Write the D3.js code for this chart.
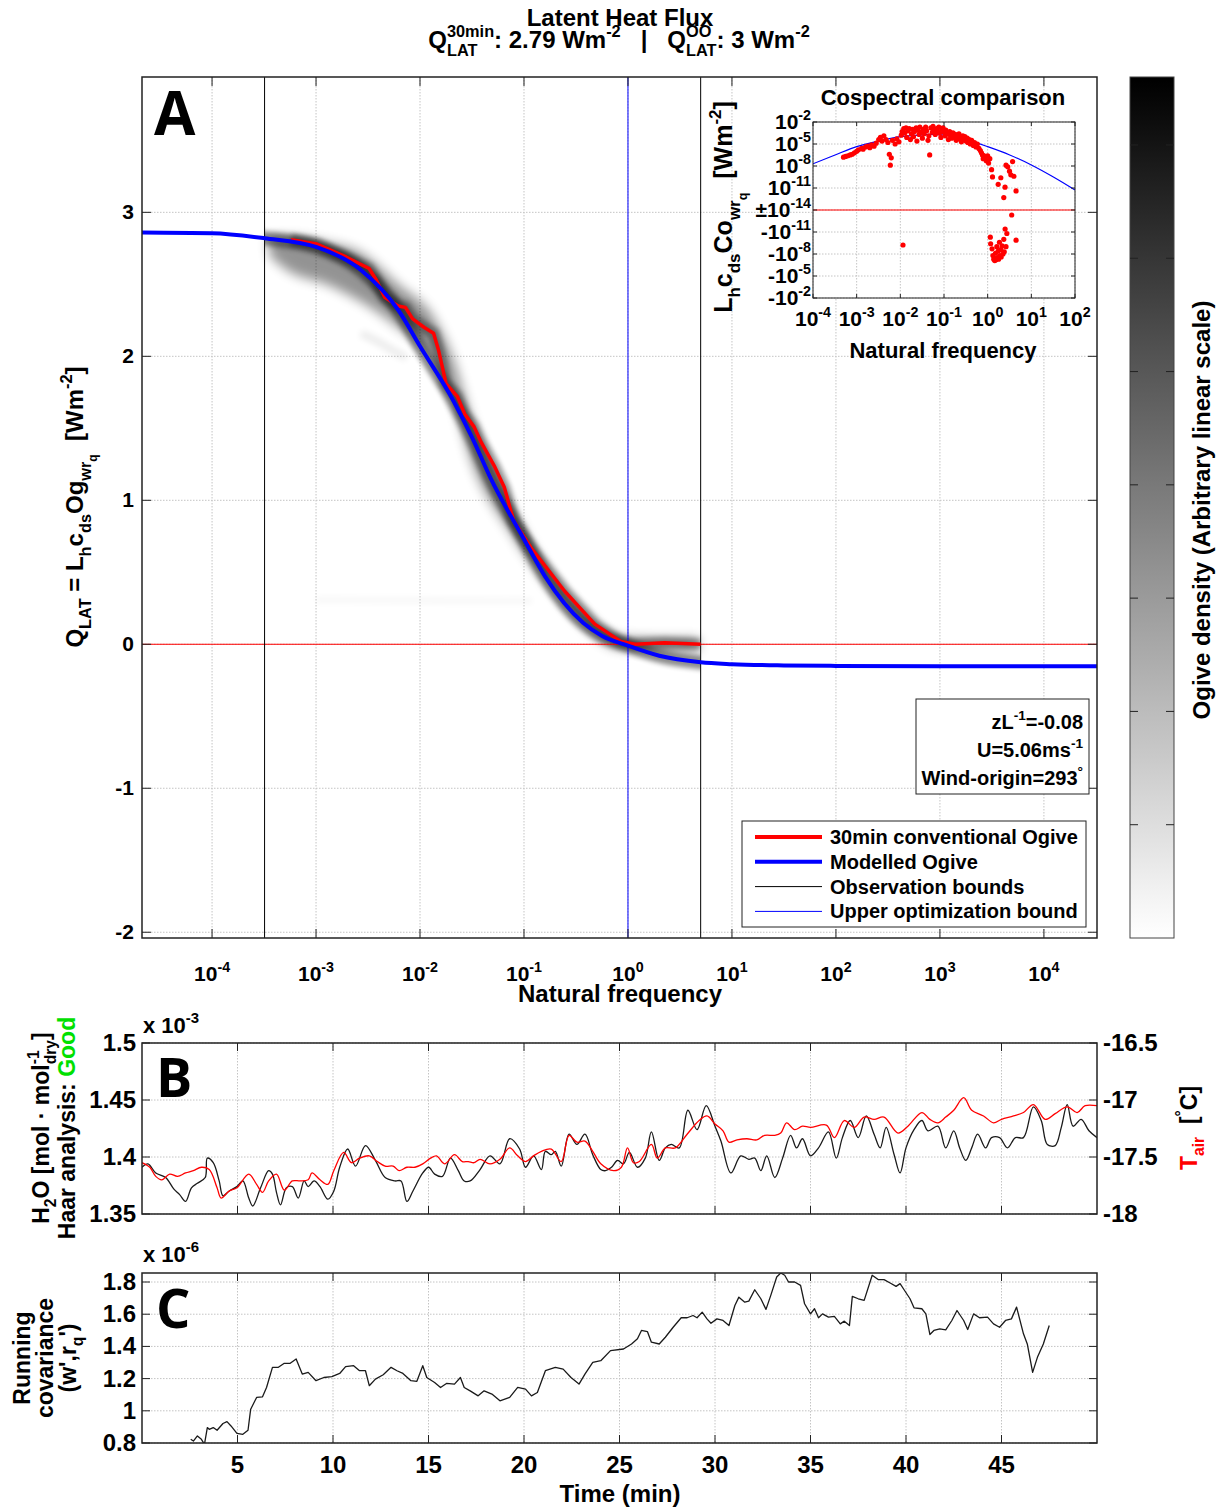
<!DOCTYPE html>
<html>
<head>
<meta charset="utf-8">
<title>Latent Heat Flux ogive</title>
<script src="https://d3js.org/d3.v7.min.js"></script>
<style>
  body { margin: 0; background: #fff; }
  text { font-family: "Liberation Sans", Arial, Helvetica, sans-serif; font-weight: bold; white-space: pre; }
  .big { font-family: "Open Sans", "Liberation Sans", sans-serif; font-weight: 700; }
</style>
</head>
<body>
<script>
// ---------- panel A : ogives (frequency in Hz, flux in W m-2) ----------
const modelF = [2.12e-5, 1e-4, 3.2e-4, 1e-3, 2.7e-3, 6.2e-3, 1e-2, 2.1e-2, 3.2e-2, 4.8e-2, 0.1, 0.16, 0.37, 0.56, 1, 2, 5, 10, 31.6, 100, 1000, 3.24e4]
const modelQ = [2.86, 2.855, 2.82, 2.76, 2.60, 2.32, 2.07, 1.69, 1.43, 1.15, 0.73, 0.47, 0.15, 0.06, -0.01, -0.08, -0.125, -0.138, -0.147, -0.15, -0.152, -0.152]

const convF = [5.75e-4, 1.02e-3, 1.95e-3, 3.24e-3, 3.8e-3, 4.57e-3, 6.17e-3, 7.24e-3, 8.5e-3, 1.1e-2, 1.35e-2, 1.51e-2, 1.78e-2, 2.29e-2, 2.69e-2, 3.31e-2, 3.89e-2, 5.25e-2, 6.46e-2, 7.94e-2, 9.12e-2, 0.117, 0.245, 0.479, 0.851, 1.17, 2.24, 5.0]
const convQ = [2.81, 2.78, 2.69, 2.61, 2.53, 2.41, 2.35, 2.34, 2.26, 2.20, 2.16, 2.04, 1.81, 1.72, 1.60, 1.51, 1.40, 1.23, 1.09, 0.86, 0.79, 0.67, 0.37, 0.14, 0.02, 0.0, 0.01, 0.0]

// ogive density cloud (envelope of the ensemble)
const bandF = [3.55e-4, 5.25e-4, 1.26e-3, 2.69e-3, 6.17e-3, 1.38e-2, 2.0e-2, 3.16e-2, 7.24e-2, 0.162, 0.372, 0.832, 2.0, 4.79]
const bandLo = [2.70, 2.60, 2.50, 2.38, 2.20, 1.97, 1.74, 1.26, 0.79, 0.43, 0.13, -0.03, -0.04, -0.04]
const bandHi = [2.83, 2.83, 2.79, 2.72, 2.50, 2.26, 2.02, 1.56, 0.98, 0.54, 0.23, 0.05, 0.04, 0.04]
const ghostF = [2.7e-3, 4.0e-3, 5.5e-3, 7.4e-3]
const ghostQ = [2.16, 2.10, 2.04, 1.99]
const ghost2F = [1.0e-3, 0.12]
const ghost2Q = [0.31, 0.30]

const obsBounds = [3.2e-4, 5.0]
const upperBound = 1
const aTicksX = [1e-4, 1e-3, 1e-2, 1e-1, 1, 10, 100, 1000, 1e4]
const aTicksY = [-2, -1, 0, 1, 2, 3]
const cbTicks = [5, 10, 15, 20, 25, 30, 35]

// ---------- inset : cospectra ----------
const cospecF = [5.0e-4, 5.6e-4, 6.3e-4, 7.1e-4, 7.9e-4, 8.9e-4, 1.0e-3, 1.1e-3, 1.3e-3, 1.4e-3,
  1.6e-3, 1.8e-3, 2.0e-3, 2.2e-3, 2.5e-3, 2.8e-3, 3.2e-3, 3.5e-3, 3.8e-3, 4.2e-3,
  4.7e-3, 5.2e-3, 5.6e-3, 5.9e-3, 6.2e-3, 6.6e-3, 7.6e-3, 8.3e-3, 9.3e-3, 1.05e-2,
  1.1e-2, 1.2e-2, 1.26e-2, 1.35e-2, 1.4e-2, 1.5e-2, 1.6e-2, 1.7e-2, 1.8e-2, 1.9e-2,
  2.0e-2, 2.1e-2, 2.3e-2, 2.4e-2, 2.5e-2, 2.7e-2, 2.8e-2, 3.0e-2, 3.2e-2, 3.4e-2,
  3.5e-2, 3.8e-2, 4.0e-2, 4.3e-2, 4.5e-2, 4.7e-2, 5.0e-2, 5.4e-2, 5.6e-2, 6.0e-2,
  6.3e-2, 6.8e-2, 7.1e-2, 7.6e-2, 7.9e-2, 8.5e-2, 8.9e-2, 9.5e-2, 0.100, 0.107,
  0.11, 0.12, 0.126, 0.135, 0.14, 0.15, 0.16, 0.17, 0.18, 0.19,
  0.20, 0.21, 0.22, 0.24, 0.25, 0.27, 0.28, 0.30, 0.32, 0.34,
  0.35, 0.38, 0.40, 0.43, 0.47, 0.50, 0.54, 0.58, 0.63, 0.68,
  0.72, 0.76, 0.79, 0.83, 0.89, 0.93, 1.00, 1.05, 1.12,
  1.23, 1.29, 1.74, 2.0, 2.34, 2.5, 2.63, 2.88, 3.16, 3.39, 3.72, 3.98, 4.47, 3.55,
  1.15, 1.17, 1.26, 1.32, 1.38, 1.45, 1.51, 1.55, 1.62, 1.66,
  1.74, 1.78, 1.86, 1.91, 2.0, 2.04, 2.14, 2.24, 2.34, 2.4,
  2.51, 2.63, 2.75, 4.47, 1.15e-2]
const cospecV = [1.6e-7, 2.0e-7, 2.5e-7, 3.2e-7, 4.0e-7, 6.3e-7, 1.0e-6, 1.6e-6, 2.5e-6, 2.0e-6,
  4.0e-6, 5.0e-6, 3.2e-6, 7.9e-6, 5.0e-6, 1.3e-5, 4.0e-5, 7.9e-5, 2.5e-5, 1.3e-4,
  4.0e-5, 1.6e-5, 4.0e-7, 1.3e-8, 1.3e-7, 3.2e-5, 1.0e-5, 5.0e-5, 2.0e-5, 1.6e-4,
  5.0e-4, 1.3e-3, 3.2e-4, 1.6e-3, 7.9e-5, 6.3e-4, 1.3e-3, 4.0e-5, 2.5e-4, 1.0e-3,
  1.0e-4, 5.0e-4, 1.6e-3, 2.5e-5, 7.9e-4, 2.0e-4, 2.0e-3, 4.0e-4, 6.3e-5, 1.0e-3,
  2.5e-4, 2.0e-3, 6.3e-4, 3.2e-5, 1.3e-4, 3.2e-7, 1.6e-3, 4.0e-4, 2.5e-3, 7.9e-4,
  2.0e-4, 1.3e-3, 5.0e-4, 2.0e-3, 3.2e-4, 7.9e-5, 1.0e-3, 1.6e-3, 4.0e-4, 1.3e-4,
  7.9e-4, 2.5e-4, 4.0e-5, 5.0e-4, 1.6e-4, 6.3e-5, 3.2e-4, 1.0e-4, 2.0e-4, 3.2e-5,
  1.3e-4, 5.0e-5, 2.5e-4, 7.9e-5, 2.0e-5, 1.3e-4, 4.0e-5, 1.0e-4, 2.5e-5, 6.3e-5,
  1.6e-5, 4.0e-5, 1.0e-5, 3.2e-5, 6.3e-6, 1.6e-5, 4.0e-6, 1.0e-5, 2.5e-6, 1.3e-6,
  6.3e-7, 3.2e-7, 1.0e-7, 2.5e-7, 1.6e-7, 5.0e-8, 2.5e-7, 2.5e-8, 1.0e-7,
  3.2e-9, 3.2e-10, 3.2e-11, 2.5e-10, 5.0e-13, 1.3e-11, 1.3e-8, 7.9e-9, 2.0e-9, 6.3e-10, 4.0e-8, 4.0e-10, 4.0e-12, -4.8e-14,
  -5.0e-11, -4.0e-10, -2.0e-9, -1.6e-8, -5.0e-8, -7.9e-8, -7.9e-9, -6.3e-8, -1.0e-9, -3.2e-8,
  -4.0e-9, -5.0e-8, -2.5e-10, -1.6e-8, -2.5e-9, -2.5e-8, -7.9e-10, -1.0e-8, -1.0e-10, -5.0e-9,
  -4.0e-12, -1.0e-9, -1.6e-11, -1.3e-10, -5.9e-10]
const cmodelF = [1e-4, 3.2e-4, 1e-3, 3.2e-3, 1e-2, 3.2e-2, 5e-2, 0.1, 0.32, 1, 3.2, 10, 32, 100]
const cmodelV = [2.0e-8, 3.2e-7, 4.3e-6, 2.5e-5, 1.0e-4, 1.8e-4, 2.1e-4, 1.7e-4, 4.0e-5, 4.3e-6, 3.2e-7, 1.4e-8, 3.2e-10, 5.4e-12]
const insetTicksX = [1e-4, 1e-3, 1e-2, 1e-1, 1, 10, 100]
const insetTicksY = [1e-2, 1e-5, 1e-8, 1e-11, 1e-14, -1e-11, -1e-8, -1e-5, -1e-2]
const insetTickLabels = [['10', '-2'], ['10', '-5'], ['10', '-8'], ['10', '-11'], ['\u00b110', '-14'], ['-10', '-11'], ['-10', '-8'], ['-10', '-5'], ['-10', '-2']]

// ---------- panel B : time series (min) ----------
const h2oT = [0.00, 0.31, 0.72, 1.24, 1.66, 1.97, 2.28, 2.59, 2.90, 3.31, 3.42, 3.73, 4.04, 4.24, 4.55, 4.97, 5.28, 5.59, 5.80, 6.21,
  6.63, 6.83, 7.04, 7.25, 7.56, 7.87, 8.18, 8.49, 8.70, 9.01, 9.32, 9.73, 10.04, 10.35, 10.77, 11.18, 11.70, 12.22, 12.73, 13.25,
  13.56, 13.87, 14.18, 14.70, 15.01, 15.32, 15.73, 16.15, 16.56, 16.87, 17.18, 17.70, 18.22, 18.74, 19.25, 19.77, 20.08, 20.50, 20.91, 21.12,
  21.43, 21.64, 21.95, 22.36, 22.77, 23.19, 23.60, 24.02, 24.27, 24.58, 24.90, 25.21, 25.52, 25.94, 26.35, 26.67, 27.08, 27.40,
  27.71, 28.13, 28.58, 29.06, 29.54, 30.00, 30.31, 30.83, 31.35, 31.77, 32.08, 32.40, 32.71, 33.13, 33.54, 33.96, 34.27, 34.58, 35.00, 35.42,
  35.94, 36.35, 36.67, 37.08, 37.50, 37.92, 38.33, 38.65, 38.96, 39.38, 39.69, 40.00, 40.42, 40.83, 41.15, 41.67, 42.08, 42.50, 42.81, 43.13,
  43.44, 43.75, 44.17, 44.48, 44.90, 45.31, 45.73, 46.15, 46.67, 47.08, 47.40, 47.81, 48.13, 48.44, 48.75, 49.17, 49.58, 50.00]
const h2oV = [1.391, 1.394, 1.386, 1.382, 1.372, 1.367, 1.361, 1.373, 1.377, 1.382, 1.399, 1.395, 1.379, 1.366, 1.370, 1.374, 1.379, 1.364, 1.357, 1.373,
  1.388, 1.385, 1.369, 1.358, 1.373, 1.374, 1.364, 1.379, 1.374, 1.379, 1.374, 1.363, 1.370, 1.391, 1.407, 1.392, 1.410, 1.397, 1.382, 1.379,
  1.379, 1.361, 1.370, 1.386, 1.391, 1.385, 1.383, 1.399, 1.388, 1.379, 1.379, 1.389, 1.401, 1.394, 1.416, 1.407, 1.391, 1.401, 1.389, 1.405,
  1.402, 1.405, 1.392, 1.420, 1.411, 1.420, 1.402, 1.389, 1.388, 1.391, 1.397, 1.394, 1.404, 1.391, 1.399, 1.422, 1.397, 1.408,
  1.411, 1.408, 1.441, 1.424, 1.445, 1.427, 1.414, 1.386, 1.401, 1.398, 1.399, 1.388, 1.401, 1.382, 1.399, 1.419, 1.408, 1.416, 1.401, 1.408,
  1.422, 1.399, 1.417, 1.432, 1.417, 1.436, 1.420, 1.408, 1.426, 1.402, 1.386, 1.408, 1.424, 1.432, 1.423, 1.427, 1.408, 1.423, 1.408, 1.397,
  1.408, 1.420, 1.408, 1.417, 1.417, 1.408, 1.417, 1.417, 1.444, 1.432, 1.411, 1.410, 1.426, 1.446, 1.427, 1.433, 1.423, 1.417]
const tairT = [0.00, 0.41, 0.72, 1.04, 1.45, 1.86, 2.28, 2.69, 3.11, 3.52, 3.93, 4.14, 4.55, 4.97, 5.59, 6.00, 6.31, 6.63, 7.04, 7.45,
  7.87, 8.28, 8.70, 8.90, 9.32, 9.73, 10.04, 10.56, 10.97, 11.39, 11.90, 12.32, 12.73, 13.15, 13.46, 13.87, 14.29, 14.70, 15.11, 15.42,
  15.84, 16.36, 16.77, 17.08, 17.39, 17.70, 18.22, 18.74, 19.25, 19.67, 20.08, 20.50, 20.91, 21.43, 21.95, 22.36, 22.77, 23.19, 23.60, 24.02,
  24.69, 25.10, 25.42, 25.73, 26.04, 26.67, 26.98, 27.40, 27.92, 28.54, 29.17, 29.58, 30.00, 30.42, 30.73, 31.15, 31.67, 32.19, 32.60, 33.13,
  33.44, 33.75, 34.17, 34.58, 35.00, 35.83, 36.25, 36.77, 37.29, 37.81, 38.33, 38.85, 39.58, 40.10, 40.83, 41.25, 41.67, 42.08, 42.50, 43.02,
  43.44, 44.06, 44.58, 45.00, 45.63, 46.15, 46.67, 47.29, 47.81, 48.44, 48.96, 49.38, 50.00]
const tairV = [-17.55, -17.59, -17.67, -17.70, -17.65, -17.67, -17.64, -17.62, -17.59, -17.61, -17.77, -17.86, -17.80, -17.77, -17.65, -17.74, -17.81, -17.71, -17.65, -17.79,
  -17.71, -17.71, -17.70, -17.64, -17.70, -17.74, -17.62, -17.46, -17.55, -17.51, -17.49, -17.54, -17.58, -17.58, -17.62, -17.59, -17.59, -17.56, -17.51, -17.49,
  -17.56, -17.48, -17.54, -17.54, -17.55, -17.52, -17.56, -17.52, -17.42, -17.49, -17.54, -17.49, -17.45, -17.43, -17.54, -17.31, -17.37, -17.36, -17.45, -17.56,
  -17.62, -17.59, -17.42, -17.55, -17.54, -17.39, -17.51, -17.42, -17.42, -17.30, -17.18, -17.14, -17.21, -17.27, -17.37, -17.35, -17.34, -17.35, -17.31, -17.31,
  -17.29, -17.20, -17.26, -17.23, -17.24, -17.22, -17.33, -17.18, -17.24, -17.15, -17.17, -17.15, -17.29, -17.23, -17.11, -17.17, -17.20, -17.15, -17.09, -16.98,
  -17.09, -17.14, -17.20, -17.17, -17.14, -17.11, -17.04, -17.17, -17.12, -17.06, -17.11, -17.05, -17.05]

// ---------- panel C : running covariance (x 1e-6) ----------
const covT = [2.55, 2.69, 2.90, 3.11, 3.27, 3.42, 3.52, 3.73, 3.93, 4.24, 4.45, 4.66, 4.97, 5.28, 5.55, 5.69, 6.00, 6.31, 6.52, 6.83,
  7.14, 7.45, 7.76, 8.07, 8.39, 8.70, 9.11, 9.52, 9.94, 10.35, 10.66, 11.08, 11.39, 11.70, 11.90, 12.22, 12.63, 13.04, 13.35, 13.66,
  14.08, 14.39, 14.70, 14.91, 15.32, 15.63, 15.94, 16.36, 16.67, 16.87, 17.18, 17.60, 17.91, 18.32, 18.74, 19.25, 19.67, 20.08, 20.39, 20.70,
  21.12, 21.64, 22.05, 22.46, 22.88, 23.19, 23.60, 24.02, 24.53, 25.21, 25.63, 25.94, 26.15, 26.46, 26.67, 27.08, 27.40, 27.81, 28.23,
  28.54, 28.85, 29.06, 29.33, 29.58, 29.79, 30.10, 30.42, 30.73, 31.04, 31.25, 31.56, 31.77, 32.08, 32.40, 32.67, 32.92, 33.23, 33.44, 33.65,
  33.85, 34.17, 34.48, 34.69, 35.00, 35.21, 35.42, 35.63, 35.94, 36.25, 36.56, 36.77, 37.04, 37.19, 37.50, 37.81, 38.23, 38.54, 38.85, 39.17,
  39.48, 39.69, 39.90, 40.21, 40.42, 40.83, 41.04, 41.25, 41.46, 41.77, 42.08, 42.40, 42.67, 43.02, 43.23, 43.54, 43.85, 44.27, 44.58, 44.90,
  45.21, 45.52, 45.79, 46.15, 46.35, 46.63, 46.88, 47.19, 47.50]
const covV = [0.823, 0.812, 0.844, 0.823, 0.792, 0.896, 0.885, 0.896, 0.879, 0.921, 0.933, 0.906, 0.860, 0.854, 0.879, 1.010, 1.083, 1.087, 1.145, 1.270,
  1.270, 1.295, 1.295, 1.322, 1.228, 1.239, 1.187, 1.207, 1.212, 1.232, 1.274, 1.280, 1.249, 1.249, 1.156, 1.197, 1.224, 1.270, 1.249, 1.232,
  1.187, 1.183, 1.280, 1.207, 1.176, 1.145, 1.170, 1.166, 1.207, 1.145, 1.124, 1.093, 1.124, 1.104, 1.062, 1.083, 1.145, 1.135, 1.093, 1.114,
  1.249, 1.270, 1.259, 1.207, 1.166, 1.228, 1.301, 1.311, 1.374, 1.384, 1.415, 1.447, 1.499, 1.492, 1.426, 1.415, 1.457, 1.519, 1.578,
  1.578, 1.592, 1.578, 1.613, 1.571, 1.544, 1.571, 1.561, 1.530, 1.654, 1.706, 1.675, 1.681, 1.752, 1.696, 1.630, 1.717, 1.831, 1.856, 1.842,
  1.800, 1.800, 1.779, 1.665, 1.602, 1.634, 1.578, 1.602, 1.582, 1.586, 1.540, 1.557, 1.530, 1.711, 1.696, 1.686, 1.842, 1.815, 1.815, 1.794,
  1.773, 1.790, 1.752, 1.696, 1.640, 1.634, 1.602, 1.474, 1.499, 1.509, 1.503, 1.561, 1.623, 1.561, 1.505, 1.602, 1.578, 1.582, 1.540, 1.519,
  1.561, 1.571, 1.644, 1.478, 1.415, 1.239, 1.332, 1.415, 1.530]
const timeTicks = [5, 10, 15, 20, 25, 30, 35, 40, 45]
const h2oTicks = [1.35, 1.4, 1.45, 1.5]
const tairTicks = [-18, -17.5, -17, -16.5]
const covTicks = [0.8, 1, 1.2, 1.4, 1.6, 1.8]

const legendItems = [
  { label: '30min conventional Ogive', color: '#ff0000', w: 4 },
  { label: 'Modelled Ogive', color: '#0000ff', w: 4 },
  { label: 'Observation bounds', color: '#000000', w: 1 },
  { label: 'Upper optimization bound', color: '#0000ff', w: 1 }
]

// ---------------------------------------------------------------------
const svg = d3.select('body').append('svg').attr('width', 1222).attr('height', 1508)
const defs = svg.append('defs')

// text with super / subscripts, measured piece by piece
function rich(parent, x, y, parts, o) {
  o = o || {}
  const size = o.size || 20
  const g = parent.append('g')
    .attr('transform', `translate(${x},${y})` + (o.rotate ? ` rotate(${o.rotate})` : ''))
  const inner = g.append('g')
  let cx = 0
  function put(str, dx, dy, fs, col) {
    const t = inner.append('text')
      .attr('x', cx + dx).attr('y', dy)
      .attr('font-size', fs)
      .attr('fill', col || o.fill || '#000')
      .text(str)
    return t.node().getComputedTextLength()
  }
  parts.forEach(p => {
    if (typeof p === 'string') p = { t: p }
    let w = 0
    if (p.t != null) w = put(p.t, 0, 0, size, p.fill)
    if (p.sup != null) w = Math.max(w, put(p.sup, 0, -0.45 * size, 0.68 * size, p.fill))
    if (p.sub != null) {
      let ws = put(p.sub, 0, 0.32 * size, 0.68 * size, p.fill)
      if (p.ss != null) ws += put(p.ss, ws, 0.6 * size, 0.5 * size, p.fill)
      w = Math.max(w, ws)
    }
    cx += w
  })
  if (o.anchor === 'middle') inner.attr('transform', `translate(${-cx / 2},0)`)
  if (o.anchor === 'end') inner.attr('transform', `translate(${-cx},0)`)
  return g
}

const gridStyle = sel => sel.attr('stroke', '#c4c4c4').attr('stroke-width', 1).attr('stroke-dasharray', '1.5,1.5')

// ====================== PANEL A ======================
const A = { l: 142, r: 1097, t: 77, b: 938 }
const ax = d3.scaleLog().domain([2.12e-5, 3.24e4]).range([A.l, A.r])
const ay = d3.scaleLinear().domain([-2.04, 3.94]).range([A.b, A.t])

defs.append('clipPath').attr('id', 'clipA').append('rect')
  .attr('x', A.l).attr('y', A.t).attr('width', A.r - A.l).attr('height', A.b - A.t)
defs.append('clipPath').attr('id', 'clipObs').append('rect')
  .attr('x', ax(obsBounds[0])).attr('y', A.t).attr('width', ax(obsBounds[1]) - ax(obsBounds[0])).attr('height', A.b - A.t)
function addBlur(id, sd) {
  defs.append('filter').attr('id', id).attr('filterUnits', 'userSpaceOnUse')
    .attr('x', 0).attr('y', 0).attr('width', 1222).attr('height', 1000)
    .append('feGaussianBlur').attr('stdDeviation', sd)
}
addBlur('blur', 6)
addBlur('blur2', 3)
addBlur('blur3', 2.5)

const gA = svg.append('g')
gA.append('rect').attr('x', A.l).attr('y', A.t).attr('width', A.r - A.l).attr('height', A.b - A.t).attr('fill', '#fff')

gA.selectAll('.gx').data(aTicksX).enter().append('line')
  .attr('x1', d => ax(d)).attr('x2', d => ax(d)).attr('y1', A.t).attr('y2', A.b).call(gridStyle)
gA.selectAll('.gy').data(aTicksY).enter().append('line')
  .attr('x1', A.l).attr('x2', A.r).attr('y1', d => ay(d)).attr('y2', d => ay(d)).call(gridStyle)

const plotA = gA.append('g').attr('clip-path', 'url(#clipA)')
const idx = n => d3.range(n)

// density cloud: soft envelope + dark core along the ogives
plotA.append('path')
  .datum(idx(bandF.length))
  .attr('d', d3.area().x(i => ax(bandF[i])).y0(i => ay(bandLo[i])).y1(i => ay(bandHi[i])).curve(d3.curveMonotoneX))
  .attr('fill', '#000').attr('opacity', 0.42).attr('filter', 'url(#blur)')
const core = plotA.append('g').attr('clip-path', 'url(#clipObs)')
core.append('path')
  .datum(idx(modelF.length))
  .attr('d', d3.line().x(i => ax(modelF[i])).y(i => ay(modelQ[i])).curve(d3.curveMonotoneX))
  .attr('fill', 'none').attr('stroke', '#000').attr('stroke-width', 14).attr('opacity', 0.45).attr('filter', 'url(#blur3)')
core.append('path')
  .datum(idx(convF.length))
  .attr('d', d3.line().x(i => ax(convF[i])).y(i => ay(convQ[i])))
  .attr('fill', 'none').attr('stroke', '#000').attr('stroke-width', 12).attr('opacity', 0.35).attr('filter', 'url(#blur3)')
plotA.append('path')
  .datum(idx(ghostF.length))
  .attr('d', d3.line().x(i => ax(ghostF[i])).y(i => ay(ghostQ[i])).curve(d3.curveMonotoneX))
  .attr('fill', 'none').attr('stroke', '#000').attr('stroke-width', 8).attr('opacity', 0.07).attr('filter', 'url(#blur2)')
plotA.append('path')
  .datum(idx(ghost2F.length))
  .attr('d', d3.line().x(i => ax(ghost2F[i])).y(i => ay(ghost2Q[i])))
  .attr('fill', 'none').attr('stroke', '#000').attr('stroke-width', 6).attr('opacity', 0.03).attr('filter', 'url(#blur2)')

// bounds
plotA.append('line').attr('x1', A.l).attr('x2', A.r).attr('y1', ay(0)).attr('y2', ay(0))
  .attr('stroke', '#ff0000').attr('stroke-width', 1)
plotA.selectAll('.obs').data(obsBounds).enter().append('line')
  .attr('x1', d => ax(d)).attr('x2', d => ax(d)).attr('y1', A.t).attr('y2', A.b)
  .attr('stroke', '#000').attr('stroke-width', 1)
plotA.append('line').attr('x1', ax(upperBound)).attr('x2', ax(upperBound)).attr('y1', A.t).attr('y2', A.b)
  .attr('stroke', '#0000ff').attr('stroke-width', 1)

plotA.append('path')
  .datum(idx(convF.length))
  .attr('d', d3.line().x(i => ax(convF[i])).y(i => ay(convQ[i])))
  .attr('fill', 'none').attr('stroke', '#ff0000').attr('stroke-width', 3.5).attr('stroke-linejoin', 'round')
plotA.append('path')
  .datum(idx(modelF.length))
  .attr('d', d3.line().x(i => ax(modelF[i])).y(i => ay(modelQ[i])).curve(d3.curveMonotoneX))
  .attr('fill', 'none').attr('stroke', '#0000ff').attr('stroke-width', 4)

// frame + ticks
gA.append('rect').attr('x', A.l).attr('y', A.t).attr('width', A.r - A.l).attr('height', A.b - A.t)
  .attr('fill', 'none').attr('stroke', '#222').attr('stroke-width', 1.5)
aTicksX.forEach(v => {
  gA.append('line').attr('x1', ax(v)).attr('x2', ax(v)).attr('y1', A.b).attr('y2', A.b - 9).attr('stroke', '#222')
  gA.append('line').attr('x1', ax(v)).attr('x2', ax(v)).attr('y1', A.t).attr('y2', A.t + 9).attr('stroke', '#222')
  rich(gA, ax(v), 981, ['10', { sup: String(Math.round(Math.log10(v))) }], { size: 21, anchor: 'middle' })
})
aTicksY.forEach(v => {
  gA.append('line').attr('x1', A.l).attr('x2', A.l + 9).attr('y1', ay(v)).attr('y2', ay(v)).attr('stroke', '#222')
  gA.append('line').attr('x1', A.r).attr('x2', A.r - 9).attr('y1', ay(v)).attr('y2', ay(v)).attr('stroke', '#222')
  gA.append('text').attr('x', 134).attr('y', ay(v) + 7).attr('text-anchor', 'end').attr('font-size', 21).text(String(v))
})
gA.append('text').attr('x', 620).attr('y', 1002).attr('text-anchor', 'middle').attr('font-size', 24).text('Natural frequency')
rich(gA, 83, 507, ['Q', { sub: 'LAT' }, ' = L', { sub: 'h' }, 'c', { sub: 'ds' }, 'Og', { sub: 'wr', ss: 'q' }, '  [Wm', { sup: '-2' }, ']'],
  { size: 24, rotate: -90, anchor: 'middle' })
gA.append('text').attr('class', 'big').attr('x', 154).attr('y', 135).attr('font-size', 60).text('A')

// title
svg.append('text').attr('x', 620).attr('y', 26).attr('text-anchor', 'middle').attr('font-size', 24).text('Latent Heat Flux')
rich(svg, 619, 48, ['Q', { sup: '30min', sub: 'LAT' }, ': 2.79 Wm', { sup: '-2' }, '   |   Q', { sup: 'OO', sub: 'LAT' }, ': 3 Wm', { sup: '-2' }],
  { size: 24, anchor: 'middle' })

// info box
gA.append('rect').attr('x', 916).attr('y', 699).attr('width', 173).attr('height', 95)
  .attr('fill', '#fff').attr('stroke', '#222').attr('stroke-width', 1)
rich(gA, 1083, 729, ['zL', { sup: '-1' }, '=-0.08'], { size: 20, anchor: 'end' })
rich(gA, 1083, 757, ['U=5.06ms', { sup: '-1' }], { size: 20, anchor: 'end' })
rich(gA, 1083, 785, ['Wind-origin=293', { sup: '\u00b0' }], { size: 20, anchor: 'end' })

// legend
gA.append('rect').attr('x', 742).attr('y', 821).attr('width', 344).attr('height', 106)
  .attr('fill', '#fff').attr('stroke', '#222').attr('stroke-width', 1)
legendItems.forEach((d, i) => {
  const y = 837 + i * 24.8
  gA.append('line').attr('x1', 755).attr('x2', 822).attr('y1', y).attr('y2', y)
    .attr('stroke', d.color).attr('stroke-width', d.w)
  gA.append('text').attr('x', 830).attr('y', y + 7).attr('font-size', 20).text(d.label)
})

// ---------------- inset -----------------
const I = { l: 813, r: 1075, t: 122, b: 298 }
const ix = d3.scaleLog().domain([1e-4, 1e2]).range([I.l, I.r])
const symT = v => v === 0 ? 0 : Math.sign(v) * Math.max(0, Math.log10(Math.abs(v)) + 14)
const iy = d3.scaleLinear().domain([-12, 12]).range([I.b, I.t])
defs.append('clipPath').attr('id', 'clipI').append('rect')
  .attr('x', I.l).attr('y', I.t).attr('width', I.r - I.l).attr('height', I.b - I.t)

const gI = svg.append('g')
gI.append('rect').attr('x', I.l).attr('y', I.t).attr('width', I.r - I.l).attr('height', I.b - I.t).attr('fill', '#fff')
gI.selectAll('.igx').data(insetTicksX).enter().append('line')
  .attr('x1', d => ix(d)).attr('x2', d => ix(d)).attr('y1', I.t).attr('y2', I.b).call(gridStyle)
gI.selectAll('.igy').data(insetTicksY).enter().append('line')
  .attr('x1', I.l).attr('x2', I.r).attr('y1', d => iy(symT(d))).attr('y2', d => iy(symT(d))).call(gridStyle)
const plotI = gI.append('g').attr('clip-path', 'url(#clipI)')
plotI.append('line').attr('x1', I.l).attr('x2', I.r).attr('y1', iy(0)).attr('y2', iy(0))
  .attr('stroke', '#ff0000').attr('stroke-width', 1)
plotI.append('path')
  .datum(idx(cmodelF.length))
  .attr('d', d3.line().x(i => ix(cmodelF[i])).y(i => iy(symT(cmodelV[i]))).curve(d3.curveMonotoneX))
  .attr('fill', 'none').attr('stroke', '#0000ff').attr('stroke-width', 1.2)
plotI.selectAll('.dot').data(idx(cospecF.length)).enter().append('circle')
  .attr('cx', i => ix(cospecF[i])).attr('cy', i => iy(symT(cospecV[i])))
  .attr('r', 2.6).attr('fill', '#ff0000')
gI.append('rect').attr('x', I.l).attr('y', I.t).attr('width', I.r - I.l).attr('height', I.b - I.t)
  .attr('fill', 'none').attr('stroke', '#222').attr('stroke-width', 1)
insetTicksX.forEach(v => {
  gI.append('line').attr('x1', ix(v)).attr('x2', ix(v)).attr('y1', I.b).attr('y2', I.b - 4).attr('stroke', '#222')
  gI.append('line').attr('x1', ix(v)).attr('x2', ix(v)).attr('y1', I.t).attr('y2', I.t + 4).attr('stroke', '#222')
  rich(gI, ix(v), 326, ['10', { sup: String(Math.round(Math.log10(v))) }], { size: 21, anchor: 'middle' })
})
insetTicksY.forEach((v, k) => {
  const y = iy(symT(v))
  gI.append('line').attr('x1', I.l).attr('x2', I.l + 4).attr('y1', y).attr('y2', y).attr('stroke', '#222')
  gI.append('line').attr('x1', I.r).attr('x2', I.r - 4).attr('y1', y).attr('y2', y).attr('stroke', '#222')
  rich(gI, 811, y + 7, [insetTickLabels[k][0], { sup: insetTickLabels[k][1] }], { size: 21, anchor: 'end' })
})
gI.append('text').attr('x', 943).attr('y', 105).attr('text-anchor', 'middle').attr('font-size', 22).text('Cospectral comparison')
gI.append('text').attr('x', 943).attr('y', 358).attr('text-anchor', 'middle').attr('font-size', 22).text('Natural frequency')
rich(gI, 732, 207, ['L', { sub: 'h' }, 'c', { sub: 'ds' }, 'Co', { sub: 'wr', ss: 'q' }, '  [Wm', { sup: '-2' }, ']'],
  { size: 25, rotate: -90, anchor: 'middle' })

// ---------------- colorbar -----------------
const CB = { l: 1130, r: 1174, t: 77, b: 938 }
const cbY = d3.scaleLinear().domain([0, 38]).range([CB.b, CB.t])
const cbColor = d3.scaleLinear().domain([0, 38]).range(['#ffffff', '#000000'])
const grad = defs.append('linearGradient').attr('id', 'cbgrad').attr('x1', 0).attr('y1', 1).attr('x2', 0).attr('y2', 0)
d3.range(0, 39, 2).forEach(v => grad.append('stop').attr('offset', v / 38).attr('stop-color', cbColor(v)))
svg.append('rect').attr('x', CB.l).attr('y', CB.t).attr('width', CB.r - CB.l).attr('height', CB.b - CB.t)
  .attr('fill', 'url(#cbgrad)').attr('stroke', '#444').attr('stroke-width', 1)
cbTicks.forEach(v => {
  svg.append('line').attr('x1', CB.l).attr('x2', CB.l + 8).attr('y1', cbY(v)).attr('y2', cbY(v)).attr('stroke', '#222')
  svg.append('line').attr('x1', CB.r).attr('x2', CB.r - 8).attr('y1', cbY(v)).attr('y2', cbY(v)).attr('stroke', '#222')
})
svg.append('text').attr('transform', 'translate(1210,510) rotate(-90)').attr('text-anchor', 'middle')
  .attr('font-size', 24).text('Ogive density (Arbitrary linear scale)')

// ====================== PANELS B & C ======================
const tx = d3.scaleLinear().domain([0, 50]).range([142, 1097])

function timeFrame(g, top, bot) {
  g.append('rect').attr('x', 142).attr('y', top).attr('width', 955).attr('height', bot - top).attr('fill', '#fff')
  g.selectAll('.tg').data(timeTicks).enter().append('line')
    .attr('x1', d => tx(d)).attr('x2', d => tx(d)).attr('y1', top).attr('y2', bot).call(gridStyle)
}
function timeBox(g, top, bot) {
  g.append('rect').attr('x', 142).attr('y', top).attr('width', 955).attr('height', bot - top)
    .attr('fill', 'none').attr('stroke', '#222').attr('stroke-width', 1.5)
  timeTicks.forEach(v => {
    g.append('line').attr('x1', tx(v)).attr('x2', tx(v)).attr('y1', bot).attr('y2', bot - 8).attr('stroke', '#222')
    g.append('line').attr('x1', tx(v)).attr('x2', tx(v)).attr('y1', top).attr('y2', top + 8).attr('stroke', '#222')
  })
}

// ---- B ----
const B = { t: 1043, b: 1214 }
const byL = d3.scaleLinear().domain([1.35, 1.5]).range([B.b, B.t])
const byR = d3.scaleLinear().domain([-18, -16.5]).range([B.b, B.t])
const gB = svg.append('g')
timeFrame(gB, B.t, B.b)
gB.selectAll('.hg').data(h2oTicks).enter().append('line')
  .attr('x1', 142).attr('x2', 1097).attr('y1', d => byL(d)).attr('y2', d => byL(d)).call(gridStyle)
defs.append('clipPath').attr('id', 'clipB').append('rect').attr('x', 142).attr('y', B.t).attr('width', 955).attr('height', B.b - B.t)
const plotB = gB.append('g').attr('clip-path', 'url(#clipB)')
plotB.append('path').datum(idx(h2oT.length))
  .attr('d', d3.line().x(i => tx(h2oT[i])).y(i => byL(h2oV[i])).curve(d3.curveCatmullRom))
  .attr('fill', 'none').attr('stroke', '#1a1a1a').attr('stroke-width', 1.3)
plotB.append('path').datum(idx(tairT.length))
  .attr('d', d3.line().x(i => tx(tairT[i])).y(i => byR(tairV[i])).curve(d3.curveCatmullRom))
  .attr('fill', 'none').attr('stroke', '#ff0000').attr('stroke-width', 1.3)
timeBox(gB, B.t, B.b)
h2oTicks.forEach(v => {
  gB.append('line').attr('x1', 142).attr('x2', 150).attr('y1', byL(v)).attr('y2', byL(v)).attr('stroke', '#222')
  gB.append('text').attr('x', 136).attr('y', byL(v) + 8).attr('text-anchor', 'end').attr('font-size', 24).text(String(v))
})
tairTicks.forEach(v => {
  gB.append('line').attr('x1', 1097).attr('x2', 1089).attr('y1', byR(v)).attr('y2', byR(v)).attr('stroke', '#222')
  gB.append('text').attr('x', 1103).attr('y', byR(v) + 8).attr('font-size', 24).text(String(v))
})
rich(gB, 143, 1033, ['x 10', { sup: '-3' }], { size: 22 })
gB.append('text').attr('class', 'big').attr('x', 156).attr('y', 1097).attr('font-size', 54).text('B')
rich(gB, 49, 1128, ['H', { sub: '2' }, 'O [mol \u00b7 mol', { sup: '-1', sub: 'dry' }, ']'], { size: 23, rotate: -90, anchor: 'middle' })
rich(gB, 75, 1128, ['Haar analysis: ', { t: 'Good', fill: '#00e000' }], { size: 23, rotate: -90, anchor: 'middle' })
rich(gB, 1197, 1128, [{ t: 'T', fill: '#ff0000' }, { sub: 'air', fill: '#ff0000' }, '  [', { sup: '\u00b0' }, 'C]'], { size: 23, rotate: -90, anchor: 'middle' })

// ---- C ----
const C = { t: 1273, b: 1443 }
const cy = d3.scaleLinear().domain([0.8, 1.856]).range([C.b, C.t])
const gC = svg.append('g')
timeFrame(gC, C.t, C.b)
gC.selectAll('.cg').data(covTicks).enter().append('line')
  .attr('x1', 142).attr('x2', 1097).attr('y1', d => cy(d)).attr('y2', d => cy(d)).call(gridStyle)
defs.append('clipPath').attr('id', 'clipC').append('rect').attr('x', 142).attr('y', C.t).attr('width', 955).attr('height', C.b - C.t)
gC.append('g').attr('clip-path', 'url(#clipC)')
  .append('path').datum(idx(covT.length))
  .attr('d', d3.line().x(i => tx(covT[i])).y(i => cy(covV[i])))
  .attr('fill', 'none').attr('stroke', '#1a1a1a').attr('stroke-width', 1.3).attr('stroke-linejoin', 'round')
timeBox(gC, C.t, C.b)
covTicks.forEach(v => {
  gC.append('line').attr('x1', 142).attr('x2', 150).attr('y1', cy(v)).attr('y2', cy(v)).attr('stroke', '#222')
  gC.append('line').attr('x1', 1097).attr('x2', 1089).attr('y1', cy(v)).attr('y2', cy(v)).attr('stroke', '#222')
  gC.append('text').attr('x', 136).attr('y', cy(v) + 8).attr('text-anchor', 'end').attr('font-size', 24).text(String(v))
})
timeTicks.forEach(v => {
  gC.append('text').attr('x', tx(v)).attr('y', 1473).attr('text-anchor', 'middle').attr('font-size', 24).text(String(v))
})
gC.append('text').attr('x', 620).attr('y', 1502).attr('text-anchor', 'middle').attr('font-size', 24).text('Time (min)')
rich(gC, 143, 1262, ['x 10', { sup: '-6' }], { size: 22 })
gC.append('text').attr('class', 'big').attr('x', 156).attr('y', 1328).attr('font-size', 54).text('C')
rich(gC, 30, 1358, ['Running'], { size: 23, rotate: -90, anchor: 'middle' })
rich(gC, 53, 1358, ['covariance'], { size: 23, rotate: -90, anchor: 'middle' })
rich(gC, 76, 1358, ["(w',r", { sub: 'q' }, "')"], { size: 23, rotate: -90, anchor: 'middle' })
</script>
</body>
</html>
